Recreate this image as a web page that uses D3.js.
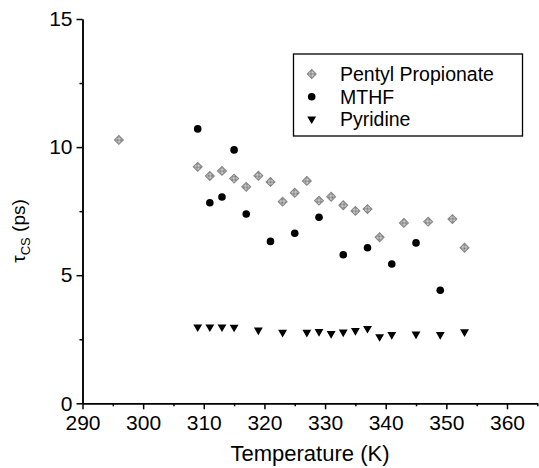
<!DOCTYPE html>
<html>
<head>
<meta charset="utf-8">
<script src="https://cdn.jsdelivr.net/npm/d3@7"></script>
<style>
  body { margin: 0; background: #fff; }
  svg { display: block; font-family: "Liberation Sans", Arial, sans-serif; }
  .axis path, .axis line { stroke: #000; stroke-width: 1.5; }
  .axis text { font-size: 21px; fill: #000; }
</style>
</head>
<body>
<svg id="viz" width="539" height="468"></svg>
<script>
// values (temperature in K, tau_cs in ps)
var ppTemp = [296, 309, 311, 313, 315, 317, 319, 321, 323, 325, 327, 329, 331, 333, 335, 337, 339, 343, 347, 351, 353];
var ppTau  = [10.28, 9.23, 8.87, 9.07, 8.77, 8.45, 8.88, 8.64, 7.87, 8.22, 8.68, 7.91, 8.06, 7.73, 7.51, 7.58, 6.48, 7.04, 7.09, 7.19, 6.07];

var mthfTemp = [309, 311, 313, 315, 317, 321, 325, 329, 333, 337, 341, 345, 349];
var mthfTau  = [10.71, 7.83, 8.05, 9.89, 7.39, 6.32, 6.64, 7.26, 5.80, 6.07, 5.44, 6.26, 4.41];

var pyrTemp = [309, 311, 313, 315, 319, 323, 327, 329, 331, 333, 335, 337, 339, 341, 345, 349, 353];
var pyrTau  = [2.98, 2.98, 2.98, 2.97, 2.86, 2.77, 2.77, 2.80, 2.72, 2.78, 2.84, 2.92, 2.60, 2.68, 2.70, 2.68, 2.79];

var xTicks = [290, 300, 310, 320, 330, 340, 350, 360];
var xMinor = [295, 305, 315, 325, 335, 345, 355, 365];
var yTicks = [0, 5, 10, 15];
var yMinor = [2.5, 7.5, 12.5];
var seriesNames = ["Pentyl Propionate", "MTHF", "Pyridine"];

function zip(a, b) {
    return a.map(function(v, i) { return {t: v, tau: b[i]}; });
}

var svg = d3.select("#viz");

var x = d3.scaleLinear().domain([290, 365]).range([82.5, 537.3]);
var y = d3.scaleLinear().domain([0, 15]).range([403.3, 19]);

// hatched grey fill for the diamonds
var pat = svg.append("defs").append("pattern")
    .attr("id", "hatch")
    .attr("width", 2).attr("height", 2)
    .attr("patternUnits", "userSpaceOnUse");
pat.append("rect").attr("width", 2).attr("height", 2).attr("fill", "#dedede");
pat.append("rect").attr("width", 1).attr("height", 1).attr("fill", "#727272");
pat.append("rect").attr("x", 1).attr("y", 1).attr("width", 1).attr("height", 1).attr("fill", "#727272");

// minor ticks
svg.append("g")
    .attr("class", "axis")
    .attr("transform", "translate(0," + y(0) + ")")
    .call(d3.axisBottom(x).tickValues(xMinor).tickSize(3).tickSizeOuter(0).tickFormat(""));
svg.append("g")
    .attr("class", "axis")
    .attr("transform", "translate(" + x(290) + ",0)")
    .call(d3.axisLeft(y).tickValues(yMinor).tickSize(3).tickSizeOuter(0).tickFormat(""));

// major axes
svg.append("g")
    .attr("class", "axis")
    .attr("transform", "translate(0," + y(0) + ")")
    .call(d3.axisBottom(x).tickValues(xTicks).tickSize(6).tickSizeOuter(0).tickPadding(6).tickFormat(d3.format("d")));

svg.append("g")
    .attr("class", "axis")
    .attr("transform", "translate(" + x(290) + ",0)")
    .call(d3.axisLeft(y).tickValues(yTicks).tickSize(6).tickSizeOuter(0).tickPadding(4).tickFormat(d3.format("d")));

// axis titles
svg.append("text")
    .attr("x", 310).attr("y", 461)
    .attr("text-anchor", "middle")
    .style("font-size", "22px")
    .text("Temperature (K)");

var yl = svg.append("text")
    .attr("transform", "translate(25,231) rotate(-90)")
    .attr("text-anchor", "middle")
    .style("font-size", "19px");
yl.append("tspan").text("\u03c4");
yl.append("tspan").attr("dy", 5).style("font-size", "13px").text("CS");
yl.append("tspan").attr("dy", -5).text(" (ps)");

var diamond = d3.symbol().type(d3.symbolSquare).size(40);
var tri = d3.symbol().type(d3.symbolTriangle).size(34);

function drawDiamond(sel) {
    sel.append("path")
        .attr("d", diamond)
        .attr("transform", function(d) { return "translate(" + d.x + "," + d.y + ") rotate(45)"; })
        .attr("fill", "url(#hatch)")
        .attr("stroke", "#858585")
        .attr("stroke-width", 1);
}
function drawTri(sel) {
    sel.append("path")
        .attr("d", tri)
        .attr("transform", function(d) { return "translate(" + d.x + "," + d.y + ") rotate(180)"; })
        .attr("fill", "#000");
}

// Pentyl Propionate
svg.append("g").selectAll("g")
    .data(zip(ppTemp, ppTau).map(function(d) { return {x: x(d.t), y: y(d.tau)}; }))
    .enter().append("g")
    .call(drawDiamond);

// MTHF
svg.append("g").selectAll("circle")
    .data(zip(mthfTemp, mthfTau))
    .enter()
    .append("circle")
    .attr("cx", function(d) { return x(d.t); })
    .attr("cy", function(d) { return y(d.tau); })
    .attr("r", 3.8)
    .attr("fill", "#000");

// Pyridine
svg.append("g").selectAll("g")
    .data(zip(pyrTemp, pyrTau).map(function(d) { return {x: x(d.t), y: y(d.tau)}; }))
    .enter().append("g")
    .call(drawTri);

// Legend
var leg = svg.append("g");
leg.append("rect")
    .attr("x", 293.5).attr("y", 54)
    .attr("width", 229).attr("height", 82)
    .attr("fill", "none")
    .attr("stroke", "#000")
    .attr("stroke-width", 1.3);

var rows = [74, 96.7, 119];
drawDiamond(leg.append("g").datum({x: 311.7, y: rows[0]}));
leg.append("circle").attr("cx", 311.7).attr("cy", rows[1]).attr("r", 3.8).attr("fill", "#000");
drawTri(leg.append("g").datum({x: 311.7, y: rows[2]}));

leg.selectAll("text.lab")
    .data(seriesNames)
    .enter()
    .append("text")
    .attr("class", "lab")
    .attr("x", 340)
    .attr("y", function(d, i) { return rows[i] + 7; })
    .style("font-size", "19.5px")
    .text(function(d) { return d; });
</script>
</body>
</html>
